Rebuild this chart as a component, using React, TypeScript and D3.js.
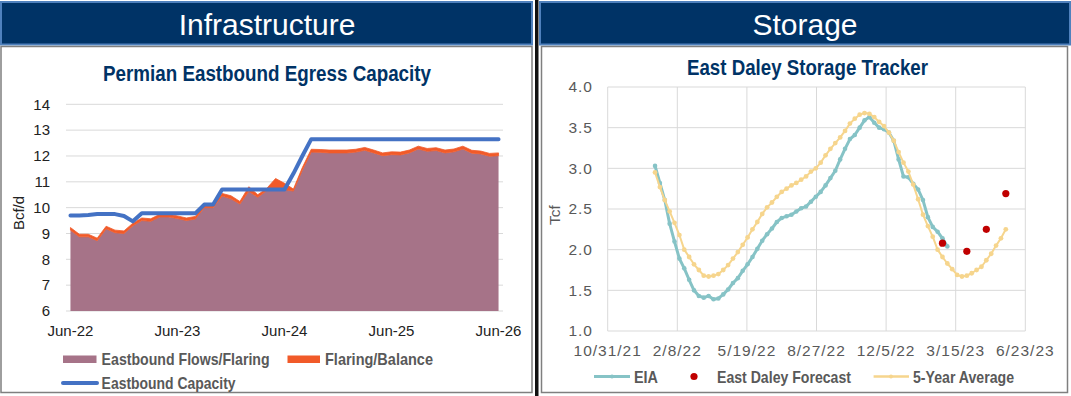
import React from "react";
import * as d3 from "d3";

// ---------- Left chart data (monthly, Jun-22 .. Jun-26) ----------
const leftStart = new Date(2022, 5, 1);
const leftTickMonths = [0, 12, 24, 36, 48];
const leftTickLabels = ["Jun-22", "Jun-23", "Jun-24", "Jun-25", "Jun-26"];
const leftYTicks = [6, 7, 8, 9, 10, 11, 12, 13, 14];

const flows = [
  9.13, 8.87, 8.87, 8.72, 9.18, 9.03, 9.0, 9.3, 9.5, 9.47, 9.64, 9.64, 9.58,
  9.5, 9.56, 10.0, 10.0, 10.45, 10.34, 10.14, 10.63, 10.4, 10.66, 10.7, 10.7,
  10.64, 11.45, 12.15, 12.14, 12.12, 12.12, 12.12, 12.15, 12.22, 12.12, 12.01,
  12.05, 12.04, 12.12, 12.27, 12.18, 12.21, 12.12, 12.16, 12.27, 12.11, 12.08,
  11.99, 12.01,
];
const flaring = [
  0.1, 0.1, 0.1, 0.1, 0.1, 0.1, 0.1, 0.1, 0.1, 0.1, 0.1, 0.1, 0.1, 0.1, 0.1,
  0.1, 0.1, 0.1, 0.12, 0.1, 0.18, 0.1, 0.08, 0.43, 0.24, 0.08, 0.1, 0.11, 0.11,
  0.11, 0.11, 0.11, 0.11, 0.11, 0.11, 0.11, 0.11, 0.11, 0.11, 0.11, 0.11, 0.11,
  0.11, 0.11, 0.11, 0.11, 0.11, 0.11, 0.11,
];
const capacity = [
  9.7, 9.7, 9.72, 9.75, 9.75, 9.75, 9.68, 9.47, 9.78, 9.78, 9.78, 9.78, 9.78,
  9.78, 9.78, 10.12, 10.12, 10.7, 10.7, 10.7, 10.7, 10.7, 10.7, 10.7, 10.7,
  11.32, 12.0, 12.65, 12.65, 12.65, 12.65, 12.65, 12.65, 12.65, 12.65, 12.65,
  12.65, 12.65, 12.65, 12.65, 12.65, 12.65, 12.65, 12.65, 12.65, 12.65, 12.65,
  12.65, 12.65,
];

// ---------- Right chart data (weekly) ----------
const rightStart = new Date(2021, 9, 31);
const rightEnd = new Date(2023, 5, 23);
const rightTickLabels = [
  "10/31/21", "2/8/22", "5/19/22", "8/27/22", "12/5/22", "3/15/23", "6/23/23",
];
const rightYTicks = [1.0, 1.5, 2.0, 2.5, 3.0, 3.5, 4.0];
const weeklyStart = new Date(2022, 0, 7);

const eia = [
  3.03, 2.82, 2.61, 2.32, 2.1, 1.89, 1.77, 1.63, 1.5, 1.43, 1.41, 1.43, 1.39,
  1.4, 1.45, 1.51, 1.59, 1.65, 1.74, 1.82, 1.91, 2.01, 2.11, 2.19, 2.26, 2.34,
  2.39, 2.41, 2.43, 2.47, 2.51, 2.53, 2.59, 2.65, 2.71, 2.79, 2.88, 2.97, 3.11,
  3.24, 3.36, 3.41, 3.5, 3.59, 3.63, 3.56, 3.5, 3.48, 3.44, 3.34, 3.11, 2.9,
  2.89, 2.81, 2.74, 2.61, 2.4, 2.28, 2.22, 2.14, 2.04,
];
const fiveYear = [
  2.95, 2.77, 2.61, 2.47, 2.33, 2.18, 2.0, 1.91, 1.82, 1.75, 1.68, 1.67, 1.68,
  1.7, 1.75, 1.81, 1.89, 1.97, 2.06, 2.15, 2.25, 2.34, 2.44, 2.52, 2.58, 2.65,
  2.71, 2.75, 2.79, 2.82, 2.86, 2.9, 2.96, 3.0, 3.07, 3.16, 3.24, 3.31, 3.38,
  3.46, 3.55, 3.61, 3.66, 3.68, 3.67, 3.63, 3.57, 3.52, 3.44, 3.34, 3.2, 3.07,
  2.96, 2.8, 2.62, 2.43, 2.29, 2.16, 2.0, 1.91, 1.83, 1.76, 1.69, 1.67, 1.68,
  1.71, 1.75, 1.79, 1.87, 1.95, 2.05, 2.14, 2.25,
];
const forecastDates = ["2023-02-24", "2023-03-31", "2023-04-28", "2023-05-26"];
const forecast = [2.08, 1.98, 2.25, 2.69];

const FONT = "'Liberation Sans', Arial, sans-serif";
const NAVY = "#003366";
const MAUVE = "#a67388";
const ORANGE = "#f15a29";
const BLUE = "#4472c4";
const TEAL = "#86c3c6";
const YELLOW = "#f6d58d";
const RED = "#c00000";
const GRID = "#d9d9d9";

export default function App() {
  // Left scales
  const xL = d3.scaleLinear().domain([-0.5, 48.5]).range([66, 503]);
  const yL = d3.scaleLinear().domain([6, 14]).range([311, 104.3]);
  const idx = flows.map((_, i) => i);
  const flowsArea = d3
    .area<number>()
    .x((i) => xL(i))
    .y0(yL(6))
    .y1((i) => yL(flows[i]))(idx);
  const flaringArea = d3
    .area<number>()
    .x((i) => xL(i))
    .y0((i) => yL(flows[i]))
    .y1((i) => yL(flows[i] + flaring[i]))(idx);
  const capLine = d3
    .line<number>()
    .x((i) => xL(i))
    .y((i) => yL(capacity[i]))(idx);
  const leftDates = idx.map((i) => d3.timeMonth.offset(leftStart, i));
  void leftDates;

  // Right scales
  const xR = d3.scaleTime().domain([rightStart, rightEnd]).range([607.7, 1025.3]);
  const yR = d3.scaleLinear().domain([1, 4]).range([331, 87]);
  const rightTicks = rightTickLabels.map((_, i) => d3.timeDay.offset(rightStart, 100 * i));
  const eiaPts = eia.map((v, i) => [xR(d3.timeDay.offset(weeklyStart, 7 * i)), yR(v)] as [number, number]);
  const fyPts = fiveYear.map((v, i) => [xR(d3.timeDay.offset(weeklyStart, 7 * i)), yR(v)] as [number, number]);
  const fcPts = forecast.map((v, i) => {
    const [yy, mm, dd] = forecastDates[i].split("-").map(Number);
    return [xR(new Date(yy, mm - 1, dd)), yR(v)] as [number, number];
  });
  const lineGen = d3.line();

  const fmt1 = d3.format(".1f");

  return (
    <svg
      width={1071}
      height={396}
      style={{ position: "fixed", left: 0, top: 0, background: "#fff" }}
      fontFamily={FONT}
    >
      <rect x={0} y={0} width={1071} height={396} fill="#fff" />
      {/* headers */}
      <rect x={1} y={2} width={531} height={42.5} fill={NAVY} stroke="#4f81bd" strokeWidth={2} />
      <text x={267} y={35} fill="#fff" fontSize={30} textAnchor="middle">Infrastructure</text>
      <rect x={540} y={2} width={530} height={42.5} fill={NAVY} stroke="#4f81bd" strokeWidth={2} />
      <text x={805} y={35} fill="#fff" fontSize={30} textAnchor="middle">Storage</text>
      <rect x={535} y={0} width={3.5} height={396} fill="#111" />

      {/* panel boxes */}
      <rect x={1} y={46.5} width={531} height={346} fill="none" stroke="#7f7f7f" strokeWidth={1.5} />
      <rect x={541.5} y={46.5} width={526} height={346} fill="none" stroke="#7f7f7f" strokeWidth={1.5} />

      {/* ---------- Left chart ---------- */}
      <text x={267} y={80.5} fill={NAVY} fontSize={22} fontWeight="bold" textAnchor="middle" textLength={328} lengthAdjust="spacingAndGlyphs">
        Permian Eastbound Egress Capacity
      </text>
      {leftYTicks.map((t) => (
        <g key={t}>
          <line x1={66} x2={503} y1={yL(t)} y2={yL(t)} stroke={GRID} strokeWidth={1} />
          <text x={50} y={yL(t)} dy="0.35em" fontSize={15} textAnchor="end" fill="#222">{t}</text>
        </g>
      ))}
      <path d={flowsArea ?? ""} fill={MAUVE} />
      <path d={flaringArea ?? ""} fill={ORANGE} stroke={ORANGE} strokeWidth={0.8} />
      <path d={capLine ?? ""} fill="none" stroke={BLUE} strokeWidth={4} strokeLinejoin="round" strokeLinecap="round" />
      {leftTickMonths.map((m, i) => (
        <text key={m} x={xL(m)} y={336} fontSize={15} textAnchor="middle" fill="#222">{leftTickLabels[i]}</text>
      ))}
      <text transform={`translate(24,213) rotate(-90)`} fontSize={15} textAnchor="middle" fill="#222">Bcf/d</text>

      {/* left legend */}
      <rect x={63} y={355.5} width={33.5} height={7.5} fill={MAUVE} />
      <text x={101.6} y={364.5} fontSize={16.5} fontWeight="bold" fill="#595959" textLength={168} lengthAdjust="spacingAndGlyphs">Eastbound Flows/Flaring</text>
      <rect x={287.5} y={355.5} width={32.5} height={7.5} fill={ORANGE} />
      <text x={325} y={364.5} fontSize={16.5} fontWeight="bold" fill="#595959" textLength={108} lengthAdjust="spacingAndGlyphs">Flaring/Balance</text>
      <line x1={63} x2={97} y1={383} y2={383} stroke={BLUE} strokeWidth={4} strokeLinecap="round" />
      <text x={101.6} y={388.5} fontSize={16.5} fontWeight="bold" fill="#595959" textLength={134} lengthAdjust="spacingAndGlyphs">Eastbound Capacity</text>

      {/* ---------- Right chart ---------- */}
      <text x={807.5} y={74.5} fill={NAVY} fontSize={22} fontWeight="bold" textAnchor="middle" textLength={241} lengthAdjust="spacingAndGlyphs">
        East Daley Storage Tracker
      </text>
      {rightYTicks.map((t) => (
        <g key={t}>
          <line x1={607.7} x2={1025.3} y1={yR(t)} y2={yR(t)} stroke={GRID} strokeWidth={1} />
          <text x={593} y={yR(t)} dy="0.35em" fontSize={15.5} letterSpacing={1} textAnchor="end" fill="#595959">{fmt1(t)}</text>
        </g>
      ))}
      {rightTicks.map((d, i) => (
        <g key={i}>
          <line x1={xR(d)} x2={xR(d)} y1={87} y2={331} stroke={GRID} strokeWidth={1} />
          <text x={xR(d)} y={356} fontSize={15.5} letterSpacing={1} textAnchor="middle" fill="#595959">{rightTickLabels[i]}</text>
        </g>
      ))}
      <text transform={`translate(560,215) rotate(-90)`} fontSize={15.5} textAnchor="middle" fill="#595959">Tcf</text>

      <path d={lineGen(eiaPts) ?? ""} fill="none" stroke={TEAL} strokeWidth={3} strokeLinejoin="round" />
      {eiaPts.map((p, i) => (
        <circle key={"e" + i} cx={p[0]} cy={p[1]} r={2.3} fill={TEAL} />
      ))}
      <path d={lineGen(fyPts) ?? ""} fill="none" stroke={YELLOW} strokeWidth={2} strokeLinejoin="round" />
      {fyPts.map((p, i) => (
        <circle key={"f" + i} cx={p[0]} cy={p[1]} r={2.4} fill={YELLOW} />
      ))}
      {fcPts.map((p, i) => (
        <circle key={"r" + i} cx={p[0]} cy={p[1]} r={3.6} fill={RED} />
      ))}

      {/* right legend */}
      <line x1={594} x2={630} y1={376.5} y2={376.5} stroke={TEAL} strokeWidth={3} />
      <circle cx={612} cy={376.5} r={2} fill={TEAL} />
      <text x={634} y={382.5} fontSize={16.5} fontWeight="bold" fill="#595959" textLength={24} lengthAdjust="spacingAndGlyphs">EIA</text>
      <circle cx={694} cy={376.5} r={3.6} fill={RED} />
      <text x={717} y={382.5} fontSize={16.5} fontWeight="bold" fill="#595959" textLength={134} lengthAdjust="spacingAndGlyphs">East Daley Forecast</text>
      <line x1={873.6} x2={909} y1={376.5} y2={376.5} stroke={YELLOW} strokeWidth={2.5} />
      <circle cx={891} cy={376.5} r={2} fill={YELLOW} />
      <text x={913} y={382.5} fontSize={16.5} fontWeight="bold" fill="#595959" textLength={101} lengthAdjust="spacingAndGlyphs">5-Year Average</text>
    </svg>
  );
}
